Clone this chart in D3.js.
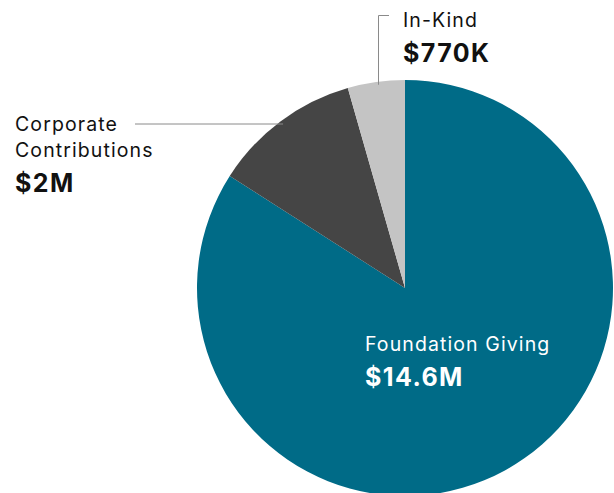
<!DOCTYPE html>
<html>
<head>
<meta charset="utf-8">
<script src="https://cdn.jsdelivr.net/npm/d3@7"></script>
<style>
  html, body { margin: 0; padding: 0; background: #fff; }
  svg { display: block; font-family: Inter, "Noto Sans", sans-serif; }
</style>
</head>
<body>
<svg id="chart" width="614" height="493"></svg>
<script>
// Revenue sources (USD)
const categories = ["Foundation Giving", "Corporate Contributions", "In-Kind"];
const amounts = [14600000, 2000000, 770000];
const valueLabels = ["$14.6M", "$2M", "$770K"];
const colors = ["#006b87", "#454545", "#c4c4c4"];

const svg = d3.select("#chart");
const cx = 405, cy = 288, radius = 208;

const data = categories.map((c, i) => ({ name: c, value: amounts[i], label: valueLabels[i], color: colors[i] }));

const pie = d3.pie().value(d => d.value).sort(null);
const arc = d3.arc().innerRadius(0).outerRadius(radius);
const arcs = pie(data);

const g = svg.append("g").attr("transform", `translate(${cx},${cy})`);
g.selectAll("path")
  .data(arcs)
  .join("path")
  .attr("d", arc)
  .attr("fill", d => d.data.color);

// Leader lines
const lineColor = "#8a8a8a";
// Corporate: horizontal line from label to slice edge
const yCorp = 124;
const xEdge = cx - Math.sqrt(radius * radius - (yCorp - cy) * (yCorp - cy));
svg.append("line")
  .attr("x1", 135).attr("x2", xEdge + 6)
  .attr("y1", yCorp).attr("y2", yCorp)
  .attr("stroke", lineColor).attr("stroke-width", 1);

// In-Kind: elbow line from label down to slice edge
const xKind = 378;
const yKindEdge = cy - Math.sqrt(radius * radius - (xKind - cx) * (xKind - cx));
svg.append("path")
  .attr("d", `M389,15.5 H${xKind + 0.5} V${yKindEdge + 3}`)
  .attr("fill", "none")
  .attr("stroke", lineColor).attr("stroke-width", 1);

// Labels: name lines in regular weight, amount in bold below
function label(x, y, lines, value, fill) {
  const t = svg.append("g").attr("fill", fill);
  lines.forEach((ln, i) => {
    t.append("text").attr("x", x).attr("y", y + i * 26.5)
      .attr("font-size", 19.5).attr("font-weight", 400)
      .attr("letter-spacing", 1.1).text(ln);
  });
  t.append("text").attr("x", x).attr("y", y + (lines.length - 1) * 26.5 + 35)
    .attr("font-size", 25).attr("font-weight", 700)
    .attr("letter-spacing", 1.4).text(value);
}

label(15, 130.5, ["Corporate", "Contributions"], data[1].label, "#111");
label(403, 27, ["In-Kind"], data[2].label, "#111");
label(365, 351, ["Foundation Giving"], data[0].label, "#fff");
</script>
</body>
</html>
